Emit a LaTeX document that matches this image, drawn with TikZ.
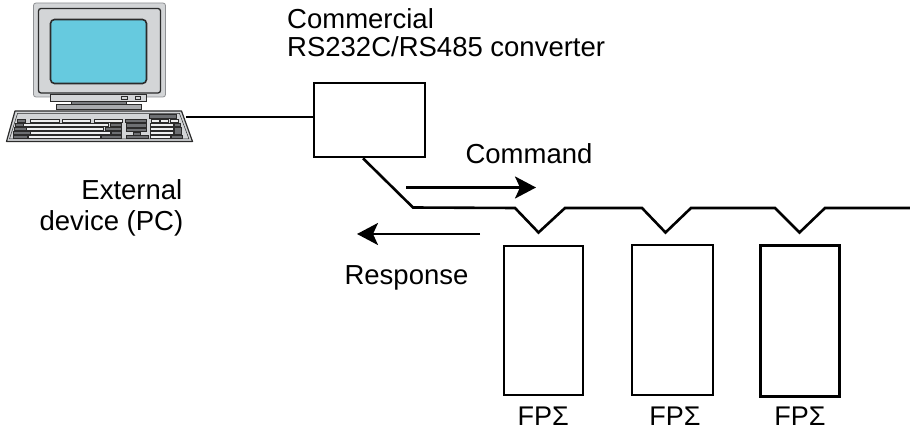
\documentclass[tikz,border=0pt]{standalone}
\usepackage{fontspec}
\setmainfont{Liberation Sans}
\usetikzlibrary{arrows.meta}
\definecolor{casegray}{HTML}{D3D5D7}
\definecolor{caseedge}{HTML}{8E9093}
\definecolor{screencyan}{HTML}{66CADF}
\definecolor{darkedge}{HTML}{2B2B2B}
\definecolor{keydark}{HTML}{6E7073}
\definecolor{keylight}{HTML}{EEEFF0}
\definecolor{standgray}{HTML}{7C7E81}
\definecolor{plategray}{HTML}{A9ABAE}
\begin{document}
\begin{tikzpicture}[x=1pt,y=-1pt,
  wire/.style={line width=2.6pt,black},
  unitbox/.style={draw=black,line width=2.6pt,fill=white,inner sep=0pt},
  lbl/.style={font=\fontsize{27.5}{33}\selectfont,inner sep=0pt},
  flow/.style={line width=2.6pt,-{Stealth[length=21pt,width=22pt,inset=5pt]}},
  pcedge/.style={draw=darkedge,line width=0.9pt},
  keyd/.style={fill=keydark,draw=darkedge,line width=0.4pt},
  keyl/.style={fill=keylight,draw=darkedge,line width=0.4pt}]
\useasboundingbox (0,0) rectangle (910,430);

% ---------- personal computer ----------
% monitor housing
\draw[draw=caseedge,line width=0.8pt,fill=casegray,rounded corners=2.5pt] (33.5,3) rectangle (165.5,97);
\draw[pcedge,line width=1.3pt,rounded corners=2.5pt] (38.5,8.5) rectangle (160.5,93);
% screen
\draw[pcedge,line width=1.6pt,fill=screencyan,rounded corners=4pt] (50.5,19.5) rectangle (146.5,83.5);
% lower bezel with two buttons
\draw[pcedge,fill=casegray] (50.5,94) rectangle (146,101);
\draw[pcedge,line width=0.6pt,fill=casegray] (121.5,96) rectangle (127,99.3);
\draw[pcedge,line width=0.6pt,fill=casegray] (135,96) rectangle (140.5,99.3);
% stand
\draw[pcedge,line width=0.6pt,fill=standgray] (71.5,101) rectangle (126.5,104.5);
\draw[pcedge,line width=0.6pt,fill=plategray] (56.5,104.5) rectangle (141.5,109.5);
% keyboard body
\draw[pcedge,line width=1.2pt,fill=casegray,line join=round] (15,111) -- (181.5,111) -- (192.5,141.5) -- (6.5,141.5) -- cycle;
\draw[pcedge,line width=0.5pt] (17.5,113.5) -- (179.5,113.5) -- (189,139) -- (9.5,139) -- cycle;
% function row
\draw[keyd] (17.5,119) rectangle (25,122.5);
\draw[keyl] (30.5,119) rectangle (59.5,122.5);
\draw[keyl] (62.5,119) rectangle (90.5,122.5);
\draw[keyl] (94,119) rectangle (122.5,122.5);
\draw[keyd] (125.5,119) rectangle (146.5,122.5);
\draw[keyd] (149.5,114.5) rectangle (176.5,118);
\draw[keyl] (151,119.5) rectangle (159,122.5);
\draw[keyl] (160.5,119.5) rectangle (168.5,122.5);
\draw[keyl] (170,119.5) rectangle (178,122.5);
% main block
\draw[keyd] (15,123.5) rectangle (23.5,126.7);
\draw[keyl] (23.5,123.5) rectangle (108.5,126.7);
\draw[keyd] (110,123.5) rectangle (121.5,126.7);
\draw[keyd] (14,127.3) rectangle (26,130.5);
\draw[keyl] (26,127.3) rectangle (103,130.5);
\draw[keyd] (105,127.3) rectangle (121.5,130.5);
\draw[keyd] (13.5,131) rectangle (30,134.3);
\draw[keyl] (30,131) rectangle (110,134.3);
\draw[keyd] (111.5,131) rectangle (121.5,134.3);
\draw[keyd] (13,135) rectangle (27,138.3);
\draw[keyl] (28,135) rectangle (100,138.3);
\draw[keyd] (101.5,135) rectangle (121.5,138.3);
% editing cluster
\draw[keyd] (126.5,123.5) rectangle (146.5,127.5);
\draw[keyd] (126.5,128) rectangle (146.5,131.5);
\draw[keyd] (133,132.3) rectangle (140,135);
\draw[keyd] (126,135.3) rectangle (148,138.5);
% numeric pad
\draw[keyl] (150.5,123.5) rectangle (173.5,126.7);
\draw[keyd] (174,123.5) rectangle (180.5,126.7);
\draw[keyl] (150.5,127.3) rectangle (173.5,130.5);
\draw[keyd] (174,127.3) rectangle (181.5,134.3);
\draw[keyl] (150.5,131) rectangle (173.5,134.3);
\draw[keyl] (150,135) rectangle (170,138.3);
\draw[keyd] (171.5,135) rectangle (182.5,138.3);

\coordinate (kbd) at (186,117);

% ---------- converter and controllers ----------
\node[unitbox,minimum width=111pt,minimum height=74pt] (conv) at (369.5,120) {};
\node[unitbox,minimum width=79pt,minimum height=149pt] (fp1) at (543.3,320.5) {};
\node[unitbox,minimum width=81pt,minimum height=150pt] (fp2) at (672.5,320) {};
\node[unitbox,minimum width=79pt,minimum height=151pt] (fp3) at (799.7,320.8) {};

% ---------- wiring ----------
\draw[wire] (kbd) -- (kbd -| conv.west);
\coordinate (bus0) at (413,207.5);
\coordinate (busend) at (911,208);
\draw[wire] ([xshift=-6.5pt]conv.south) -- (bus0) -- (515,208) -- (538.5,232.5) -- (565,208)
  -- (642,208) -- (665.5,232.5) -- (691,208)
  -- (775,208) -- (799.5,232.5) -- (825,208) -- (busend);

% ---------- data flow arrows ----------
\coordinate (cmdA) at (406,187.5);
\coordinate (cmdB) at (536,187.5);
\coordinate (resA) at (480,234);
\coordinate (resB) at (357,234);
\draw[flow] (cmdA) -- (cmdB);
\draw[flow] (resA) -- (resB);

% ---------- labels ----------
\node[lbl,anchor=base west] (t1) at (287,29) {Commercial};
\node[lbl,anchor=base west] (t2) at (287,56.5) {RS232C/RS485 converter};
\node[lbl,anchor=base east] (t3) at (182.5,199.5) {External};
\node[lbl,anchor=base east] (t4) at (183.5,230.5) {device (PC)};
\node[lbl,anchor=base] (t5) at (529,163.5) {Command};
\node[lbl,anchor=base] (t6) at (406.5,284) {Response};
\node[lbl,anchor=base,font=\fontsize{27}{32}\selectfont] (f1) at (543.3,425) {FPΣ};
\node[lbl,anchor=base,font=\fontsize{27}{32}\selectfont] (f2) at (675,425) {FPΣ};
\node[lbl,anchor=base,font=\fontsize{27}{32}\selectfont] (f3) at (800,425) {FPΣ};
\end{tikzpicture}
\end{document}
